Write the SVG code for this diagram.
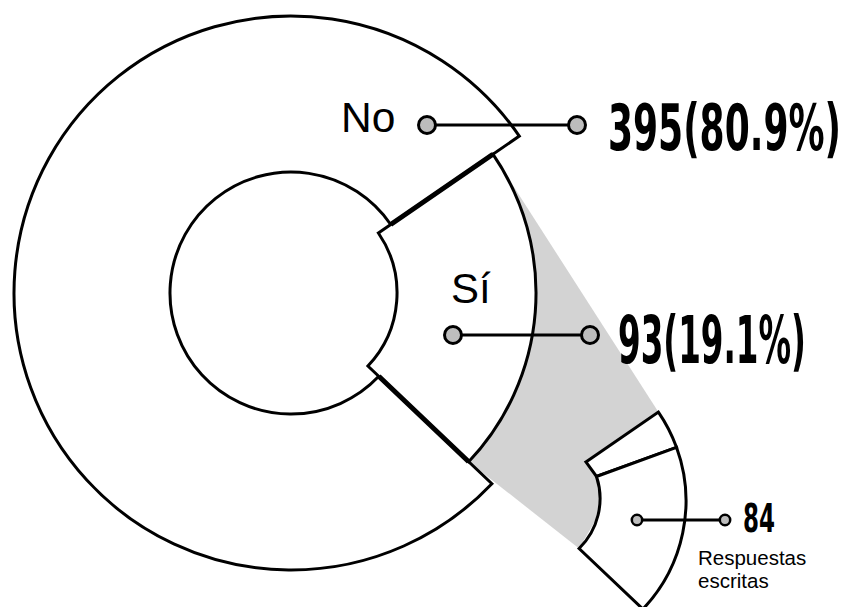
<svg xmlns="http://www.w3.org/2000/svg" width="847" height="607" viewBox="0 0 847 607">
<style>
.seg{fill:#fff;stroke:#000;stroke-width:3;stroke-linejoin:miter}
.thick{fill:none;stroke:#000;stroke-width:5}
.ln{stroke:#000;stroke-width:2.8;fill:none}
.dot{fill:#bdbdbd;stroke:#000;stroke-width:3}
.sdot{fill:#bdbdbd;stroke:#000;stroke-width:2.5}
.lbl{font-family:"Liberation Sans",Arial,sans-serif;fill:#000}
.num{font-family:"DejaVu Sans Condensed","Liberation Sans Narrow","Liberation Sans",sans-serif;font-weight:bold;fill:#000}
</style>
<rect width="847" height="607" fill="#fff"/>
<g id="zoom-shade">
<polygon points="492.9,154.2 658.4,412.1 579.1,548.5 468.7,461.7" fill="#d3d3d3"/>
</g>
<g id="no">
<path class="seg" d="M519.3,136.1 A277,277 0 1 0 491.9,483.7 L378.8,376.3 A121,121 0 1 1 390.7,224.5 Z"/>
</g>
<g id="si">
<path class="seg" d="M378.4,233 L492.9,154.2 A245,245 0 0 1 468.7,461.7 L367.9,366 A106,106 0 0 0 378.4,233 Z"/>
<path class="thick" d="M390.7,224.5 L492.9,154.2 M378.8,376.3 L468.7,461.7"/>
</g>
<g id="si-otras">
<path class="seg" d="M585.9,461.9 L658.4,412.1 A157,157 0 0 1 676.5,447.3 L596.5,476.5 Z"/>
</g>
<g id="si-escritas">
<path class="seg" d="M596.5,476.5 L676.5,447.3 A157,157 0 0 1 642.9,609.1 L579.1,548.5 A70,70 0 0 0 596.5,476.5 Z"/>
</g>
<g id="connectors">
<line class="ln" x1="427" y1="125" x2="577" y2="125"/>
<circle class="dot" cx="427" cy="125" r="8.5"/>
<circle class="dot" cx="577" cy="125" r="8.5"/>
<line class="ln" x1="453" y1="335" x2="590" y2="335"/>
<circle class="dot" cx="453" cy="335" r="8.5"/>
<circle class="dot" cx="590" cy="335" r="8.5"/>
<line class="ln" x1="637" y1="520" x2="725" y2="520"/>
<circle class="sdot" cx="637" cy="520" r="5.2"/>
<circle class="sdot" cx="725" cy="520" r="5.2"/>
</g>
<g id="labels">
<text class="lbl" x="341" y="132" font-size="42.5">No</text>
<text class="num" transform="translate(608,150) scale(1,1.78)" font-size="36" textLength="233" lengthAdjust="spacingAndGlyphs">395(80.9%)</text>
<text class="lbl" x="451" y="303" font-size="42">Sí</text>
<text class="num" transform="translate(618,363) scale(1,1.84)" font-size="36" textLength="188" lengthAdjust="spacingAndGlyphs">93(19.1%)</text>
<text class="num" transform="translate(743,532) scale(1,1.52)" font-size="26" textLength="32" lengthAdjust="spacingAndGlyphs">84</text>
<text class="lbl" x="698" y="565" font-size="20.5">Respuestas</text>
<text class="lbl" x="698" y="588" font-size="20.5">escritas</text>
</g>
</svg>
